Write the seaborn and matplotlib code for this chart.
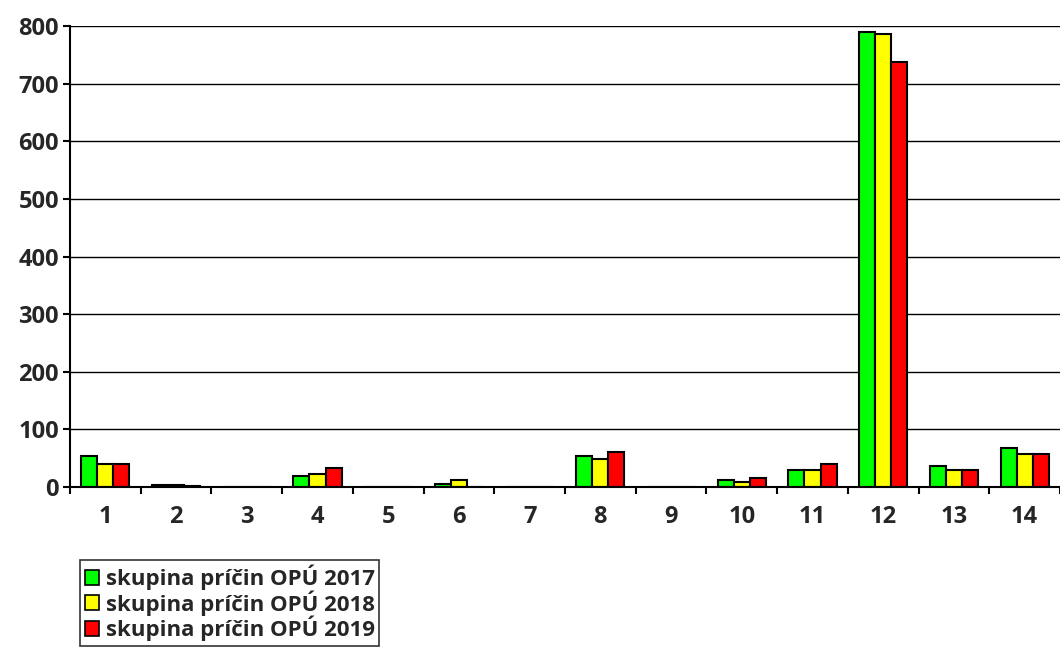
import seaborn as sns
import matplotlib.pyplot as plt
import pandas as pd
from matplotlib.patches import Patch
from matplotlib.ticker import MultipleLocator

# Groups of causes (1..14) and values per year
categories = [str(i) for i in range(1, 15)]
values_2017 = [54, 3, 0, 19, 0, 5, 0, 54, 0, 12, 29, 789, 37, 67]
values_2018 = [40, 3, 0, 23, 0, 12, 0, 49, 0, 8, 29, 786, 29, 57]
values_2019 = [40, 1, 0, 33, 0, 0, 0, 61, 0, 16, 40, 737, 29, 57]
series_names = ['skupina príčin OPÚ 2017', 'skupina príčin OPÚ 2018', 'skupina príčin OPÚ 2019']
colors = ['#00ff00', '#ffff00', '#ff0000']

df = pd.DataFrame({
    'kategoria': categories * 3,
    'hodnota': values_2017 + values_2018 + values_2019,
    'rok': [series_names[0]] * 14 + [series_names[1]] * 14 + [series_names[2]] * 14,
})

sns.set_style('white')
plt.rcParams['font.family'] = ['Open Sans', 'DejaVu Sans']
plt.rcParams['font.weight'] = 'bold'

fig = plt.figure(figsize=(10.6, 6.47), dpi=100)
ax = fig.add_axes([70 / 1060, 1 - 487 / 647, 1 - 70 / 1060, (487 - 26) / 647])

sns.barplot(data=df, x='kategoria', y='hodnota', hue='rok', palette=colors,
            saturation=1, width=0.68, edgecolor='black', linewidth=1.5, ax=ax, legend=False)

ax.set_ylim(0, 800)
ax.set_xlim(-0.5, 13.5)
ax.yaxis.set_major_locator(MultipleLocator(100))
ax.grid(axis='y', color='black', linewidth=1)
ax.set_axisbelow(True)
ax.set_xlabel('')
ax.set_ylabel('')

for s in ['top', 'right']:
    ax.spines[s].set_visible(False)
for s in ['left', 'bottom']:
    ax.spines[s].set_color('black')
    ax.spines[s].set_linewidth(1.5)

# tick marks between categories, labels centered
ax.set_xticks([i - 0.5 for i in range(15)], minor=True)
ax.tick_params(axis='x', which='major', bottom=True, length=0, pad=13, labelsize=17)
ax.tick_params(axis='x', which='minor', bottom=True, length=5, width=1.5, direction='out', color='black')
ax.tick_params(axis='y', left=True, length=5, width=1.5, direction='out', color='black', labelsize=17, pad=3)
for lbl in ax.get_xticklabels() + ax.get_yticklabels():
    lbl.set_fontweight('bold')

handles = [Patch(facecolor=c, edgecolor='black', linewidth=1.2) for c in colors]
leg = fig.legend(handles, series_names, loc='upper left',
                 bbox_to_anchor=(69 / 1060, 1 - 549 / 647), frameon=True,
                 fancybox=False, edgecolor='black', handlelength=0.65, handleheight=0.65,
                 handletextpad=0.3, labelspacing=0.0, borderpad=0.2,
                 prop={'weight': 'bold', 'size': 16})
leg.get_frame().set_linewidth(1.2)
leg.get_frame().set_edgecolor('black')

fig.savefig('out.png', dpi=100)
